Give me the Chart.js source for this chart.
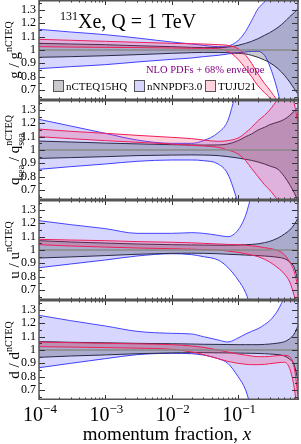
<!DOCTYPE html>
<html>
<head>
<meta charset="utf-8">
<script src="https://cdn.jsdelivr.net/npm/chart.js@4.4.1/dist/chart.umd.min.js"></script>
<style>
  html, body { margin: 0; padding: 0; background: #fff; }
  #wrap { position: relative; width: 301px; height: 444px; overflow: hidden; }
  #wrap canvas { position: absolute; left: 0; }
</style>
</head>
<body>
<div id="wrap">
  <canvas id="pG" width="301" height="100" style="top:0px"></canvas>
  <canvas id="pS" width="301" height="100" style="top:100px"></canvas>
  <canvas id="pU" width="301" height="100" style="top:200px"></canvas>
  <canvas id="pD" width="301" height="144" style="top:300px"></canvas>
</div>
<script>
"use strict";

// grille en x commune a toutes les bandes
const xs = [1e-4, 3e-4, 1e-3, 3e-3, 0.01, 0.02, 0.03, 0.05, 0.07, 0.1, 0.13, 0.16, 0.2, 0.25, 0.3, 0.4, 0.5, 0.6, 0.7, 0.8];

const yTickLabels = ['0.7', '0.8', '0.9', '1', '1.1', '1.2', '1.3'];
const xTickDecades = [1e-4, 1e-3, 1e-2, 1e-1];
const xTickExps = ['\u22124', '\u22123', '\u22122', '\u22121'];
const pdfNames = ['nCTEQ15HQ', 'nNNPDF3.0', 'TUJU21'];

// gluon
const gCtqHi = [1.05, 1.045, 1.04, 1.032, 1.025, 1.02, 1.018, 1.018, 1.022, 1.035, 1.05, 1.065, 1.085, 1.11, 1.13, 1.17, 1.21, 1.25, 1.28, 1.31];
const gCtqLo = [0.945, 0.95, 0.957, 0.965, 0.975, 0.98, 0.982, 0.982, 0.98, 0.975, 0.97, 0.96, 0.945, 0.925, 0.905, 0.86, 0.81, 0.76, 0.71, 0.67];
const gNnHi = [1.155, 1.135, 1.115, 1.09, 1.06, 1.045, 1.035, 1.025, 1.03, 1.07, 1.14, 1.22, 1.31, 1.36, 1.42, 1.5, 1.6, 1.7, 1.8, 1.9];
const gNnLo = [0.86, 0.875, 0.89, 0.91, 0.93, 0.94, 0.95, 0.96, 0.97, 0.98, 0.985, 0.99, 0.99, 0.96, 0.88, 0.68, 0.45, 0.35, 0.3, 0.3];
const gTjHi = [1.08, 1.073, 1.065, 1.058, 1.05, 1.047, 1.045, 1.04, 1.035, 1.01, 0.96, 0.9, 0.82, 0.75, 0.7, 0.6, 0.45, 0.4, 0.4, 0.4];
const gTjLo = [1.025, 1.022, 1.02, 1.018, 1.015, 1.013, 1.012, 1.01, 0.99, 0.93, 0.86, 0.8, 0.73, 0.68, 0.64, 0.5, 0.4, 0.35, 0.35, 0.35];

// mer
const sCtqHi = [1.067, 1.06, 1.052, 1.046, 1.04, 1.038, 1.037, 1.038, 1.045, 1.07, 1.1, 1.12, 1.15, 1.17, 1.19, 1.21, 1.23, 1.26, 1.29, 1.32];
const sCtqLo = [0.937, 0.943, 0.95, 0.958, 0.962, 0.963, 0.962, 0.958, 0.95, 0.94, 0.93, 0.922, 0.91, 0.895, 0.88, 0.855, 0.8, 0.74, 0.68, 0.62];
const sNnHi = [1.23, 1.18, 1.125, 1.075, 1.05, 1.05, 1.07, 1.13, 1.22, 1.5, 1.7, 1.9, 2, 2, 2, 2, 2, 2, 2, 2];
const sNnLo = [0.855, 0.875, 0.895, 0.915, 0.925, 0.925, 0.92, 0.895, 0.82, 0.6, 0.4, 0.3, 0.2, 0.2, 0.2, 0.2, 0.2, 0.2, 0.2, 0.2];
const sTjHi = [1.157, 1.14, 1.125, 1.11, 1.095, 1.085, 1.075, 1.065, 1.07, 1.09, 1.13, 1.17, 1.22, 1.26, 1.3, 1.38, 1.42, 1.42, 1.35, 1.2];
const sTjLo = [1.1, 1.085, 1.07, 1.058, 1.045, 1.035, 1.03, 1.02, 1.0, 0.97, 0.92, 0.86, 0.8, 0.74, 0.7, 0.62, 0.55, 0.5, 0.5, 0.5];

// u
const uCtqHi = [1.07, 1.06, 1.052, 1.045, 1.04, 1.038, 1.037, 1.036, 1.036, 1.037, 1.04, 1.042, 1.046, 1.055, 1.065, 1.09, 1.12, 1.15, 1.19, 1.24];
const uCtqLo = [0.94, 0.948, 0.958, 0.968, 0.975, 0.976, 0.975, 0.972, 0.968, 0.965, 0.962, 0.96, 0.958, 0.955, 0.952, 0.945, 0.935, 0.91, 0.87, 0.77];
const uNnHi = [1.22, 1.19, 1.16, 1.125, 1.125, 1.13, 1.125, 1.11, 1.1, 1.15, 1.26, 1.42, 1.6, 1.8, 2, 2, 2, 2, 2, 2];
const uNnLo = [0.867, 0.895, 0.925, 0.955, 0.972, 0.965, 0.95, 0.925, 0.87, 0.775, 0.68, 0.55, 0.4, 0.3, 0.2, 0.2, 0.2, 0.2, 0.2, 0.2];
const uTjHi = [1.08, 1.075, 1.07, 1.063, 1.058, 1.054, 1.05, 1.045, 1.042, 1.04, 1.036, 1.032, 1.026, 1.018, 1.012, 0.995, 0.965, 0.91, 0.84, 0.72];
const uTjLo = [1.04, 1.03, 1.022, 1.015, 1.01, 1.006, 1.003, 1.0, 0.992, 0.982, 0.972, 0.962, 0.95, 0.93, 0.91, 0.865, 0.82, 0.76, 0.66, 0.55];

// d
const dCtqHi = [1.063, 1.058, 1.054, 1.05, 1.047, 1.045, 1.043, 1.042, 1.041, 1.04, 1.04, 1.04, 1.04, 1.042, 1.045, 1.052, 1.062, 1.085, 1.12, 1.18];
const dCtqLo = [0.945, 0.955, 0.963, 0.972, 0.978, 0.98, 0.98, 0.979, 0.978, 0.977, 0.976, 0.975, 0.974, 0.972, 0.97, 0.965, 0.955, 0.93, 0.89, 0.77];
const dNnHi = [1.26, 1.22, 1.18, 1.14, 1.125, 1.12, 1.1, 1.075, 1.06, 1.09, 1.12, 1.14, 1.16, 1.19, 1.22, 1.3, 1.4, 1.5, 1.6, 1.7];
const dNnLo = [0.867, 0.9, 0.935, 0.965, 0.975, 0.972, 0.962, 0.935, 0.9, 0.8, 0.7, 0.55, 0.4, 0.3, 0.2, 0.2, 0.2, 0.2, 0.2, 0.2];
const dTjHi = [1.06, 1.055, 1.05, 1.046, 1.04, 1.03, 1.02, 1.0, 0.985, 0.97, 0.962, 0.955, 0.95, 0.95, 0.952, 0.958, 0.96, 0.95, 0.87, 0.66];
const dTjLo = [1.025, 1.022, 1.018, 1.014, 1.005, 0.985, 0.965, 0.935, 0.915, 0.9, 0.893, 0.89, 0.89, 0.892, 0.897, 0.905, 0.908, 0.86, 0.72, 0.5];

// couleurs
const grayFill = 'rgba(40,40,60,0.25)', grayLine = '#2b2b48';
const blueFill = 'rgba(0,0,255,0.16)', blueLine = '#4545ff';
const pinkFill = 'rgba(255,30,90,0.2)', pinkLine = '#ee2058';
const serif = '"Liberation Serif", "DejaVu Serif", serif';

function pts(arr) {
  return xs.map((x, i) => ({ x: x, y: arr[i] }));
}

// une bande = deux datasets, le haut rempli jusqu'au bas
function band(name, hi, lo, fill, line, order) {
  const common = { borderColor: line, backgroundColor: fill, borderWidth: 1, pointRadius: 0, cubicInterpolationMode: 'monotone', order: order };
  return [
    Object.assign({ label: name, data: pts(hi), fill: '+1' }, common),
    Object.assign({ label: name + ' lo', data: pts(lo), fill: false }, common)
  ];
}

function line(ctx, x0, y0, x1, y1) {
  ctx.beginPath(); ctx.moveTo(x0, y0); ctx.lineTo(x1, y1); ctx.stroke();
}

// texte avec exposants / indices, sur une ligne de base
function richWidth(ctx, parts, size) {
  let w = 0;
  for (const p of parts) {
    if (p[1] === 'sup' || p[1] === 'sub') {
      ctx.font = (size * 0.66) + 'px ' + serif;
      w += ctx.measureText(p[0]).width;
    } else if (p[1] === 'subsup') {
      ctx.font = (size * 0.66) + 'px ' + serif;
      w += Math.max(ctx.measureText(p[0]).width, ctx.measureText(p[2]).width);
    } else {
      ctx.font = size + 'px ' + serif;
      w += ctx.measureText(p[0]).width;
    }
  }
  return w;
}

function drawRich(ctx, parts, size, x, y) {
  const small = size * 0.66;
  for (const p of parts) {
    if (p[1] === 'sup' || p[1] === 'sub') {
      ctx.font = small + 'px ' + serif;
      ctx.fillText(p[0], x, y + (p[1] === 'sup' ? -size * 0.45 : size * 0.3));
      x += ctx.measureText(p[0]).width;
    } else if (p[1] === 'subsup') {
      ctx.font = small + 'px ' + serif;
      ctx.fillText(p[0], x, y + size * 0.3);
      ctx.fillText(p[2], x, y - size * 0.45);
      x += Math.max(ctx.measureText(p[0]).width, ctx.measureText(p[2]).width);
    } else {
      ctx.font = size + 'px ' + serif;
      ctx.fillText(p[0], x, y);
      x += ctx.measureText(p[0]).width;
    }
  }
}

const deco = {
  id: 'deco',
  afterDatasetsDraw(chart, args, opts) {
    const ctx = chart.ctx;
    const a = chart.chartArea;
    const xS = chart.scales.x, yS = chart.scales.y;
    ctx.save();

    // ligne centrale nCTEQ = 1
    const y1 = yS.getPixelForValue(1);
    ctx.strokeStyle = '#8a8a8a';
    ctx.lineWidth = 1.5;
    line(ctx, a.left, y1, a.right, y1);

    // ticks y (gauche et droite)
    ctx.strokeStyle = '#333';
    ctx.lineWidth = 1;
    for (let k = 13; k <= 27; k++) {
      const yy = Math.round(yS.getPixelForValue(k * 0.05)) + 0.5;
      const len = k % 2 === 0 ? 6 : 3;
      line(ctx, a.left, yy, a.left + len, yy);
      line(ctx, a.right, yy, a.right - len, yy);
    }
    // ticks x (haut et bas)
    for (const dec of xTickDecades) {
      for (let m = 1; m <= 9; m++) {
        const v = m * dec;
        if (v > xS.max) break;
        const xx = Math.round(xS.getPixelForValue(v)) + 0.5;
        const len = m === 1 ? 5 : 2.5;
        line(ctx, xx, a.top, xx, a.top + len);
        line(ctx, xx, a.bottom, xx, a.bottom - len);
      }
    }
    // cadre
    ctx.strokeStyle = '#555';
    ctx.lineWidth = 1.5;
    ctx.strokeRect(a.left, a.top + 0.75, a.right - a.left, a.bottom - a.top - 1.5);

    // titre de l'axe y, tourne
    ctx.fillStyle = '#000';
    ctx.textBaseline = 'alphabetic';
    ctx.textAlign = 'left';
    const tw = richWidth(ctx, opts.yTitle, 15);
    ctx.translate(19, (a.top + a.bottom) / 2);
    ctx.rotate(-Math.PI / 2);
    drawRich(ctx, opts.yTitle, 15, -tw / 2, 0);
    ctx.restore();

    if (opts.head) drawHead(ctx);
    if (opts.foot) drawFoot(ctx, chart);
  }
};

function drawHead(ctx) {
  ctx.save();
  ctx.fillStyle = '#000';
  ctx.textAlign = 'left';
  ctx.textBaseline = 'alphabetic';
  ctx.font = '12px ' + serif;
  ctx.fillText('131', 60, 20);
  ctx.font = '20px ' + serif;
  ctx.fillText('Xe, Q = 1 TeV', 78, 28);

  ctx.fillStyle = '#800080';
  ctx.font = '10.5px ' + serif;
  ctx.fillText('NLO PDFs + 68% envelope', 146, 73);

  const boxX = [53, 134, 205];
  const fills = [grayFill, blueFill, pinkFill];
  ctx.font = '11px ' + serif;
  for (let i = 0; i < 3; i++) {
    ctx.fillStyle = '#fff';
    ctx.fillRect(boxX[i], 80, 10, 11);
    ctx.fillStyle = fills[i];
    ctx.fillRect(boxX[i], 80, 10, 11);
    ctx.strokeStyle = '#555';
    ctx.lineWidth = 1;
    ctx.strokeRect(boxX[i] + 0.5, 80.5, 10, 11);
    ctx.fillStyle = '#000';
    ctx.fillText(pdfNames[i], boxX[i] + 13, 90);
  }
  ctx.restore();
}

function drawFoot(ctx, chart) {
  const xS = chart.scales.x;
  ctx.save();
  ctx.fillStyle = '#000';
  ctx.textAlign = 'left';
  ctx.textBaseline = 'alphabetic';
  xTickDecades.forEach((v, i) => {
    ctx.font = '20px ' + serif;
    const w1 = ctx.measureText('10').width;
    ctx.font = '13px ' + serif;
    const w2 = ctx.measureText(xTickExps[i]).width;
    const x0 = xS.getPixelForValue(v) - (w1 + w2) / 2 + 1;
    ctx.font = '20px ' + serif;
    ctx.fillText('10', x0, 120.5);
    ctx.font = '13px ' + serif;
    ctx.fillText(xTickExps[i], x0 + w1, 113);
  });
  ctx.font = '19px ' + serif;
  const t = 'momentum fraction, ';
  const wt = ctx.measureText(t).width;
  ctx.font = 'italic 19px ' + serif;
  const wx = ctx.measureText('x').width;
  const x0 = 167 - (wt + wx) / 2;
  ctx.font = '19px ' + serif;
  ctx.fillText(t, x0, 140);
  ctx.font = 'italic 19px ' + serif;
  ctx.fillText('x', x0 + wt, 140);
  ctx.restore();
}

function makePanel(id, bands, yTitle, extra) {
  const datasets = [].concat(
    band(pdfNames[2], bands[4], bands[5], pinkFill, pinkLine, 1),
    band(pdfNames[0], bands[0], bands[1], grayFill, grayLine, 2),
    band(pdfNames[1], bands[2], bands[3], blueFill, blueLine, 3)
  );
  return new Chart(document.getElementById(id), {
    type: 'line',
    data: { datasets: datasets },
    options: {
      responsive: false,
      animation: false,
      devicePixelRatio: 1,
      layout: { padding: { left: 0, right: 3, top: 0, bottom: extra.foot ? 44 : 0 } },
      scales: {
        x: { type: 'logarithmic', min: 1e-4, max: 0.8, display: false },
        y: {
          min: 0.625,
          max: 1.375,
          grid: { display: false, drawTicks: false },
          border: { display: false },
          ticks: {
            color: '#000',
            padding: 3,
            autoSkip: false,
            font: { family: serif, size: 12 },
            callback: (v, i) => yTickLabels[i]
          },
          afterBuildTicks: (scale) => {
            scale.ticks = yTickLabels.map((s) => ({ value: parseFloat(s) }));
          },
          afterFit: (scale) => {
            scale.width = 39;
            scale.paddingTop = 0;
            scale.paddingBottom = 0;
          }
        }
      },
      plugins: {
        legend: { display: false },
        tooltip: { enabled: false },
        deco: Object.assign({ yTitle: yTitle }, extra)
      }
    },
    plugins: [deco]
  });
}

makePanel('pG', [gCtqHi, gCtqLo, gNnHi, gNnLo, gTjHi, gTjLo],
  [['g'], [' / '], ['g'], ['nCTEQ', 'sup']], { head: true });
makePanel('pS', [sCtqHi, sCtqLo, sNnHi, sNnLo, sTjHi, sTjLo],
  [['q'], ['sea', 'sub'], [' / '], ['q'], ['sea', 'subsup', 'nCTEQ']], {});
makePanel('pU', [uCtqHi, uCtqLo, uNnHi, uNnLo, uTjHi, uTjLo],
  [['u'], [' / '], ['u'], ['nCTEQ', 'sup']], {});
makePanel('pD', [dCtqHi, dCtqLo, dNnHi, dNnLo, dTjHi, dTjLo],
  [['d'], [' / '], ['d'], ['nCTEQ', 'sup']], { foot: true });
</script>
</body>
</html>
